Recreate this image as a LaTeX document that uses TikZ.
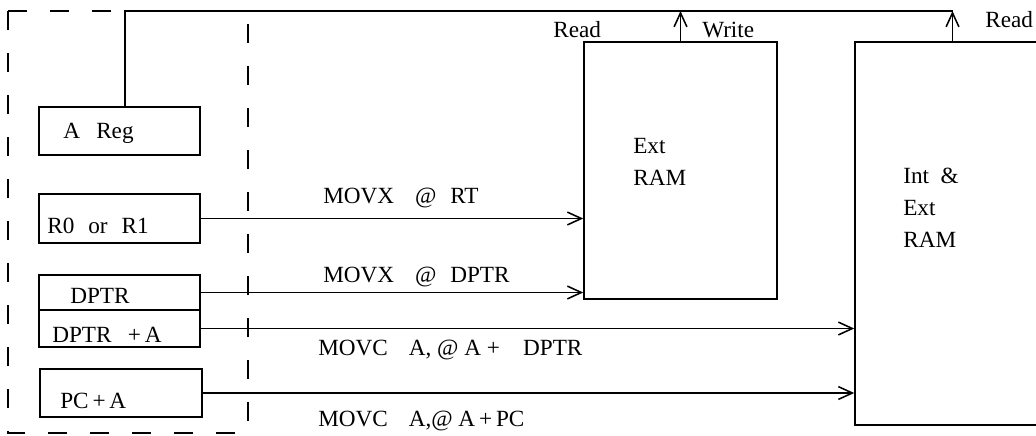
\documentclass[tikz,border=0pt]{standalone}
\usepackage{fontspec}
\setmainfont{Liberation Serif}
\usetikzlibrary{arrows.meta}
\tikzset{
  reg/.style     = {draw, line width=1.1pt, inner sep=0pt,
                    minimum width=4.025cm},
  txt/.style     = {anchor=base west, inner sep=0pt, align=left,
                    font=\fontsize{16.5}{22.7}\selectfont},
  arr/.style     = {-{Straight Barb[length=3.5mm,width=3.2mm]},
                    line width=1.1pt},
  dashbox/.style = {line width=1.1pt, dash pattern=on 0.47cm off 0.58cm}
}

\begin{document}
\begin{tikzpicture}[x=0.025cm, y=-0.025cm]
  \useasboundingbox (0,0) rectangle (1036,435);
  \clip (0,0) rectangle (1036,435);
  \node[reg, minimum height=1.2cm] (areg) at (119.5,131) {};
  \node[reg, minimum height=1.225cm] (rsel) at (119.5,218.5) {};
  \node[reg, minimum height=0.875cm] (dptr) at (119.5,292.5) {};
  \node[reg, minimum height=0.925cm] (dptra) at (119.5,328.5) {};
  \node[reg, minimum width=4.05cm, minimum height=1.2cm] (pca) at (121,393) {};
  \node[reg, minimum width=4.825cm, minimum height=6.425cm] (extram) at (680.5,170.5) {};
  \node[reg, minimum width=4.875cm, minimum height=9.575cm] (intram) at (952.5,233.5) {};
  \coordinate (bus) at (952.5,11);
  \draw[dashbox] (8,11) -- (240,11);
  \draw[dashbox] (8,11) -- (8,433) -- (237,433);
  \draw[dashbox] (248,24) -- (248,424);
  \draw[line width=1.1pt] ([xshift=0.14cm]areg.north) |- (bus);
  \draw[arr] (extram.north) -- (extram.north |- bus);
  \draw[arr] (intram.north) -- (intram.north |- bus);
  \draw[arr] (rsel.east) -- (rsel.east -| extram.west);
  \draw[arr] (dptr.east) -- (dptr.east -| extram.west);
  \draw[arr] (dptra.east) -- (dptra.east -| intram.west);
  \draw[arr] (pca.east) -- (pca.east -| intram.west);
  \node[txt] (tareg) at (63,138) {A\hspace{0.7em}Reg};
  \node[txt] (trsel) at (47,233) {R0\hspace{0.6em}or\hspace{0.6em}R1};
  \node[txt] (tdptr) at (70,303) {DPTR};
  \node[txt] (tdptra) at (52,342) {DPTR\hspace{0.7em}+\,A};
  \node[txt] (tpca) at (60,408) {PC\,+\,A};
  \node[txt] (tmovr) at (323,203) {MOVX\hspace{0.9em}@\hspace{0.6em}RT};
  \node[txt] (tmovd) at (323,282) {MOVX\hspace{0.9em}@\hspace{0.6em}DPTR};
  \node[txt] (tmovcd) at (318,355) {MOVC\hspace{0.9em}A, @ A +\hspace{1em}DPTR};
  \node[txt] (tmovcp) at (318,426) {MOVC\hspace{0.9em}A,@ A\,+\,PC};
  \node[txt] (text) at (633,185) {Ext\\RAM};
  \node[txt] (tint) at (903,247) {Int\hspace{0.5em}\&\\Ext\\RAM};
  \node[txt] (tread) at (553,37) {Read};
  \node[txt] (twrite) at (702,37) {Write};
  \node[txt] (tread2) at (985,27) {Read};
\end{tikzpicture}
\end{document}
